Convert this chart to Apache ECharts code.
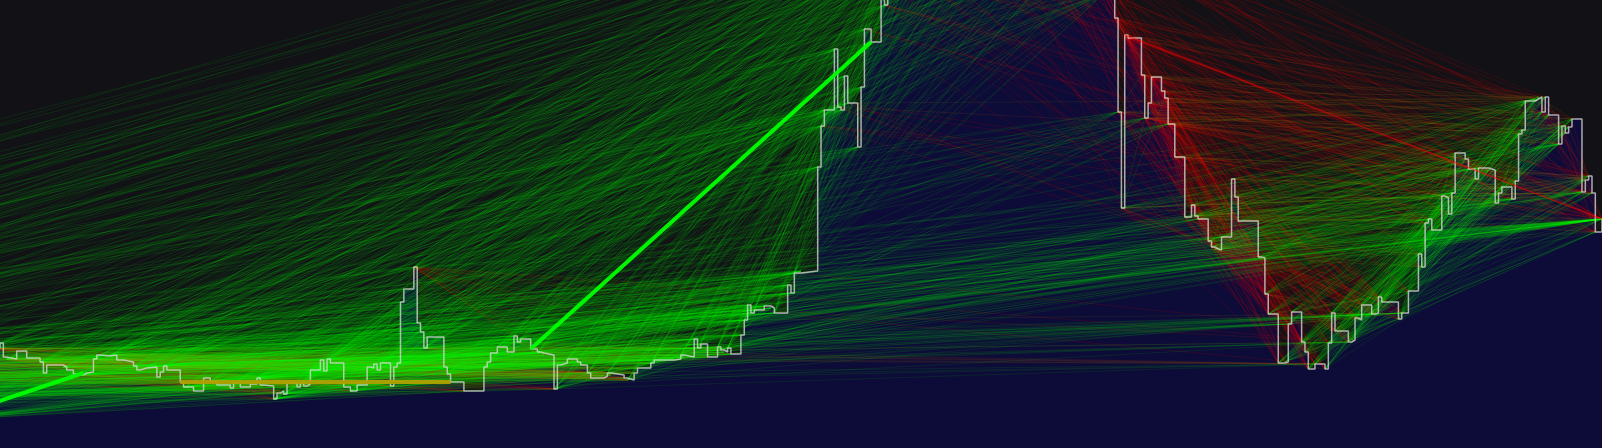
<!DOCTYPE html>
<html><head><meta charset="utf-8">
<script src="https://cdn.jsdelivr.net/npm/echarts@6/dist/echarts.min.js"></script>
<style>html,body{margin:0;padding:0;background:#111116;overflow:hidden}#c{width:1602px;height:448px;}</style>
</head><body><div id="c"></div>
<script>
// [day, price] at every price change. Days < 0 lie left of the visible window (estimated).
const preWindow = [[-340,5200],[-330,4600],[-320,5000],[-310,4200],[-300,3800],[-290,4100],[-280,3600],[-270,3500],[-260,3900],[-250,3700],[-240,4200],[-230,4000],[-220,5000],[-210,5600],[-200,5300],[-190,6400],[-180,7600],[-170,8800],[-160,8200],[-150,10400],[-140,12200],[-130,11000],[-120,13000],[-110,11800],[-100,10500],[-90,11200],[-80,9900],[-70,10600],[-60,9400],[-50,10200],[-40,9000],[-30,8400],[-24,7200],[-17,4800],[-12,8800],[-6,11500],[-3,12000]];
const early = [[0,12500],[1,11100],[2,10900],[5,11700],[8,11000],[12,10600],[13,9500],[14,10300],[19,10100],[20,9800],[22,9400],[23,9300],[25,9500],[26,9600],[28,10900],[29,11300],[30,11200],[33,11300],[35,10800],[37,10600],[40,10200],[41,9800],[42,10000],[44,10100],[47,9100],[48,9600],[49,10200],[50,9800],[54,8600],[55,8100],[58,7700],[61,9000],[63,8700],[65,8300],[69,8000],[70,8500],[72,8100],[75,8400],[77,9000],[78,8300],[79,8200],[82,6900],[83,7500],[84,7700],[85,7400],[86,8500],[89,8100],[90,8500],[91,8200],[92,8400],[93,9800],[96,10800],[97,9700],[98,10900],[99,10500],[103,8100],[105,7700],[107,8300],[110,10100],[111,10000],[112,10400],[113,9800],[114,10500],[117,8200],[118,10100],[119,10500],[120,16600],[121,17900],[124,20100],[125,14500],[126,13600],[127,12000],[128,13100],[133,10100],[134,9400],[135,8600],[139,7700],[145,10100],[146,10600],[147,11500],[149,12100],[152,11600],[154,13200],[155,12600],[156,12900],[159,11900],[161,11600],[162,11500],[163,11300],[166,7900],[167,10300],[168,10500],[170,10900],[173,10600],[174,10300],[176,9500],[177,9000],[181,9200],[182,9500],[183,9300],[187,9000],[188,8800],[190,9500],[191,10000],[195,10500],[196,10800],[202,10900],[204,11300],[205,11100],[208,12900],[209,12000],[210,12400],[212,11100],[215,12100],[216,11800],[217,11600],[218,12000],[219,11400],[222,13300],[223,14800],[224,16300],[225,15500],[226,15800],[229,16200],[231,16000],[232,15500],[236,18300],[237,17500],[238,19500],[240,19700],[245,30100],[246,34200],[247,35800],[250,41900],[251,36100],[252,35800],[253,39200],[254,36500],[257,32100],[258,38100],[259,43900],[261,42600]];
// above the visible window (estimated from the line fans)
const peak = [[264,48800],[265,46300],[266,50800],[269,53500],[272,51000],[275,56000],[278,58500],[281,55500],[284,60000],[287,62500],[290,59000],[293,63000],[296,64500],[299,61000],[302,57500],[305,60500],[308,58000],[311,62000],[314,59500],[317,55000],[320,57000],[323,52500],[326,54000],[329,50000],[331,47500]];
const late = [[334,45000],[335,35600],[336,26000],[337,43300],[338,43000],[342,39300],[343,35000],[344,36500],[345,39100],[348,37700],[349,37000],[350,34400],[352,31100],[355,25100],[357,26300],[358,25200],[359,24900],[362,22700],[363,22100],[364,21900],[365,21800],[366,23100],[369,28900],[370,27100],[371,24700],[377,21100],[378,21000],[379,17400],[380,15400],[383,10500],[385,10600],[386,14400],[387,15600],[390,12600],[391,11600],[392,9900],[394,10400],[397,9900],[398,12500],[399,15500],[400,13700],[404,12600],[405,12800],[406,15000],[407,14800],[408,16300],[411,15400],[412,15500],[413,17100],[414,16600],[419,14900],[420,15500],[422,17700],[425,21400],[426,20100],[427,24500],[428,24900],[429,23800],[432,27200],[433,27000],[434,25400],[435,27500],[436,31500],[439,30900],[440,29900],[442,28900],[443,30000],[446,29800],[448,26500],[449,27500],[450,28100],[453,26900],[454,28700],[455,33400],[456,33800],[457,36700],[460,36900],[461,37100],[462,35600],[463,37100],[464,35300],[467,32400],[468,34200],[469,33500],[470,34100],[471,34900],[474,27600],[475,28800],[476,29200],[477,27500],[478,23600],[480,24900]];
// highlighted trades: buy day -> sell day
const tradeBuy = [-17, 54, 159];
const tradeSell = [25, 135, 261];
const minorBuy = [337];
const minorSell = [480];
const viewDays = [0, 480];
const viewPrices = [2000, 46800];

const segs = [preWindow, early, peak, late];
const pts = [], seg = [];
segs.forEach((s, k) => s.forEach(p => { pts.push(p); seg.push(k); }));
const byDay = {}; pts.forEach(p => byDay[p[0]] = p);
const last = pts.length - 1;

function colorFor(r, a) {
  const t = Math.max(-1, Math.min(1, r * 4));
  let c;
  if (t >= 0) c = [175 * (1 - t), 160 + 95 * t, 0];
  else c = [175 + 80 * (-t), 160 * (1 + t), 0];
  return 'rgba(' + c.map(Math.round).join(',') + ',' + a + ')';
}
// which pairs are shown: every M-th partner, M depending on the segments joined
function stride(i, j) {
  const a = seg[i], b = seg[j];
  if (j === last) return 3;
  if (b === 3 && a <= 1) return 90;
  if (a === 2 && b === 3) return 16;
  if (a === 3) return 4;
  return 9;
}

const NB = 21;
const buckets = Array.from({length: NB}, () => []);
for (let i = 0; i < pts.length; i++) {
  for (let j = i + 1; j < pts.length; j++) {
    const M = stride(i, j);
    if ((i * 5 + j * 3) % M) continue;
    const a = pts[i], b = pts[j];
    const r = b[1] / a[1] - 1;
    const t = Math.max(-1, Math.min(1, r * 4));
    const k = Math.round((t + 1) / 2 * (NB - 1));
    buckets[k].push({coords: [a, b]});
  }
}
const series = [];
series.push({type: 'line', data: pts, step: 'end', symbol: 'none', z: 1,
  lineStyle: {width: 0, opacity: 0}, areaStyle: {color: '#0d0b37', opacity: 1}, silent: true});
buckets.forEach((list, k) => {
  const t = k / (NB - 1) * 2 - 1;
  series.push({type: 'lines', coordinateSystem: 'cartesian2d', data: list, z: 2,
    large: false, progressive: 0, silent: true, animation: false,
    lineStyle: {color: colorFor(t / 4, t < 0 ? 0.13 : 0.1), width: 1, opacity: 1}});
});
series.push({type: 'line', data: pts, step: 'end', symbol: 'none', z: 3, silent: true,
  lineStyle: {color: 'rgba(215,215,215,0.78)', width: 1.5}});
tradeBuy.forEach((b, i) => {
  const a = byDay[b], c = byDay[tradeSell[i]];
  series.push({type: 'lines', coordinateSystem: 'cartesian2d', z: 4, silent: true,
    data: [{coords: [a, c]}],
    lineStyle: {color: colorFor(c[1] / a[1] - 1, 0.95), width: 4, opacity: 1}});
});
minorBuy.forEach((b, i) => {
  const a = byDay[b], c = byDay[minorSell[i]];
  series.push({type: 'lines', coordinateSystem: 'cartesian2d', z: 4, silent: true,
    data: [{coords: [a, c]}],
    lineStyle: {color: colorFor(c[1] / a[1] - 1, 0.5), width: 1.5, opacity: 1}});
});

const chart = echarts.init(document.getElementById('c'));
chart.setOption({
  animation: false,
  backgroundColor: '#111116',
  grid: {left: 0, right: 0, top: 0, bottom: 0},
  xAxis: {type: 'value', min: viewDays[0], max: viewDays[1], show: false},
  yAxis: {type: 'value', min: viewPrices[0], max: viewPrices[1], show: false},
  series: series
});
</script></body></html>
